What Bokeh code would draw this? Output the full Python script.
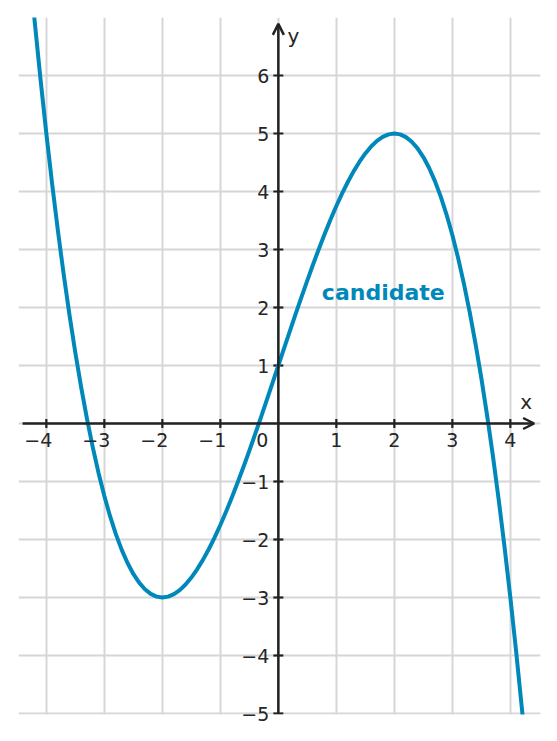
from bokeh.plotting import figure
from bokeh.models import (Range1d, Grid, FixedTicker, Arrow, OpenHead, Label, LabelSet,
                          ColumnDataSource, BoxAnnotation)
from bokeh.core.properties import value
from bokeh.embed import file_html
from bokeh.resources import INLINE
import math

# ---- data ----
curve_x = [-4.3, -4.2, -4.1, -4.0, -3.9, -3.8, -3.7, -3.6, -3.5, -3.4, -3.3, -3.2, -3.1, -3.0,
           -2.9, -2.8, -2.7, -2.6, -2.5, -2.4, -2.3, -2.2, -2.1, -2.0, -1.9, -1.8, -1.7, -1.6,
           -1.5, -1.4, -1.3, -1.2, -1.1, -1.0, -0.9, -0.8, -0.7, -0.6, -0.5, -0.4, -0.3, -0.2,
           -0.1, 0.0, 0.1, 0.2, 0.3, 0.4, 0.5, 0.6, 0.7, 0.8, 0.9, 1.0, 1.1, 1.2, 1.3, 1.4, 1.5,
           1.6, 1.7, 1.8, 1.9, 2.0, 2.1, 2.2, 2.3, 2.4, 2.5, 2.6, 2.7, 2.8, 2.9, 3.0, 3.1, 3.2,
           3.3, 3.4, 3.5, 3.6, 3.7, 3.8, 3.9, 4.0, 4.1, 4.2, 4.3]
curve_y = [7.977, 6.922, 5.930, 5.0, 4.130, 3.318, 2.563, 1.864, 1.219, 0.626, 0.084, -0.408,
           -0.852, -1.25, -1.603, -1.912, -2.179, -2.406, -2.594, -2.744, -2.858, -2.938, -2.985,
           -3.0, -2.985, -2.942, -2.872, -2.776, -2.656, -2.514, -2.351, -2.168, -1.967, -1.75,
           -1.518, -1.272, -1.014, -0.746, -0.469, -0.184, 0.107, 0.402, 0.700, 1.0, 1.300, 1.598,
           1.893, 2.184, 2.469, 2.746, 3.014, 3.272, 3.518, 3.75, 3.967, 4.168, 4.351, 4.514,
           4.656, 4.776, 4.872, 4.942, 4.985, 5.0, 4.985, 4.938, 4.858, 4.744, 4.594, 4.406,
           4.179, 3.912, 3.603, 3.25, 2.852, 2.408, 1.916, 1.374, 0.781, 0.136, -0.563, -1.318,
           -2.130, -3.0, -3.930, -4.922, -5.977]
curve_name = "candidate"

x_ticks = [-4, -3, -2, -1, 1, 2, 3, 4]
x_tick_labels = ["\u22124", "\u22123", "\u22122", "\u22121", "1", "2", "3", "4"]
y_ticks = [-5, -4, -3, -2, -1, 1, 2, 3, 4, 5, 6]
y_tick_labels = ["\u22125", "\u22124", "\u22123", "\u22122", "\u22121", "1", "2", "3", "4", "5", "6"]
grid_x = [-4, -3, -2, -1, 0, 1, 2, 3, 4]
grid_y = [-5, -4, -3, -2, -1, 0, 1, 2, 3, 4, 5, 6]
x_min, x_max = -4.48, 4.52
y_bottom, y_max = -5.0, 7.0
y_view_min = -5.3448          # a little room below -5 so the "-5" label is not clipped
axis_x_end = 4.41
axis_y_end = 6.89
label_pos = (0.75, 2.26)

BLUE = "#0088bb"
DARK = "#222222"
TXT = "#262626"
FONT = "DejaVu Sans"

p = figure(width=545, height=733, frame_width=522, frame_height=716,
           x_range=Range1d(x_min, x_max), y_range=Range1d(y_view_min, y_max),
           x_axis_location=None, y_axis_location=None,
           output_backend="svg", toolbar_location=None,
           min_border_left=18, min_border_top=17, min_border_right=5, min_border_bottom=0)
p.outline_line_color = None
for g in p.grid:
    g.visible = False
p.background_fill_color = "white"
p.border_fill_color = "white"

p.add_layout(Grid(dimension=0, ticker=FixedTicker(ticks=grid_x),
                  grid_line_color="#d6d6d6", grid_line_width=2))
p.add_layout(Grid(dimension=1, ticker=FixedTicker(ticks=grid_y),
                  grid_line_color="#d6d6d6", grid_line_width=2))

# axes with arrow heads
p.add_layout(Arrow(x_start=-axis_x_end, y_start=0, x_end=axis_x_end, y_end=0,
                   line_color=DARK, line_width=2.5,
                   end=OpenHead(size=11, line_color=DARK, line_width=2.5)))
p.add_layout(Arrow(x_start=0, y_start=y_bottom, x_end=0, y_end=axis_y_end,
                   line_color=DARK, line_width=2.5,
                   end=OpenHead(size=11, line_color=DARK, line_width=2.5)))

# tick marks
p.scatter(x=x_ticks, y=[0] * len(x_ticks), marker="dash", angle=math.pi / 2,
          size=9, line_color=DARK, line_width=2.2)
p.scatter(x=[0] * len(y_ticks), y=y_ticks, marker="dash",
          size=10, line_color=DARK, line_width=2.2)

# curve
p.line(curve_x, curve_y, line_color=BLUE, line_width=4, line_join="round", line_cap="butt")

# white mask below y = -5 (the plotted area ends there)
p.add_layout(BoxAnnotation(top=y_bottom - 0.017, bottom=y_view_min - 1,
                           fill_color="white", fill_alpha=1.0, line_color=None,
                           level="annotation"))

# tick labels
neg_shift = [-8 if t.startswith("\u2212") else 0 for t in x_tick_labels]
xs = ColumnDataSource(dict(x=x_ticks, y=[0] * len(x_ticks), t=x_tick_labels, dx=neg_shift))
p.add_layout(LabelSet(x="x", y="y", text="t", source=xs, text_align="center",
                      text_baseline="top", x_offset="dx", y_offset=-9, text_font=value(FONT),
                      text_font_size="19px", text_color=TXT))
zs = ColumnDataSource(dict(x=[0], y=[0], t=["0"]))
p.add_layout(LabelSet(x="x", y="y", text="t", source=zs, text_align="center",
                      text_baseline="top", x_offset=-16, y_offset=-9, text_font=value(FONT),
                      text_font_size="19px", text_color=TXT))
ys = ColumnDataSource(dict(x=[0] * len(y_ticks), y=y_ticks, t=y_tick_labels))
p.add_layout(LabelSet(x="x", y="y", text="t", source=ys, text_align="right",
                      text_baseline="middle", x_offset=-9, text_font=value(FONT),
                      text_font_size="19px", text_color=TXT))

# axis names
p.add_layout(Label(x=axis_x_end, y=0, text="x", text_align="center", text_baseline="middle",
                   x_offset=-8, y_offset=22, text_font=FONT, text_font_size="20px",
                   text_color=TXT))
p.add_layout(Label(x=0, y=axis_y_end, text="y", text_align="center", text_baseline="middle",
                   x_offset=15, y_offset=-12, text_font=FONT, text_font_size="20px",
                   text_color=TXT))

p.add_layout(Label(x=label_pos[0], y=label_pos[1], text=curve_name,
                   text_font=FONT, text_font_style="bold", text_font_size="22px",
                   text_color=BLUE, text_align="left", text_baseline="alphabetic"))

open("out.html", "w").write(file_html(p, INLINE))
